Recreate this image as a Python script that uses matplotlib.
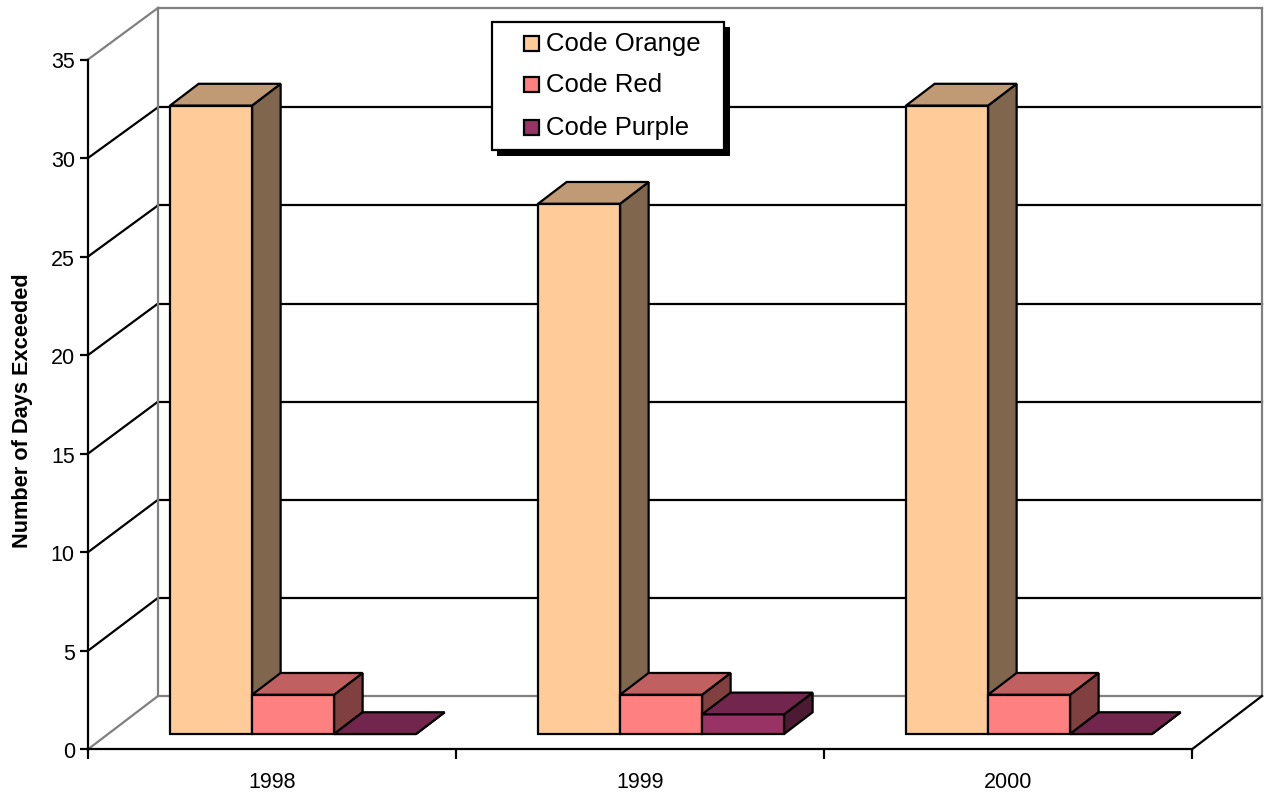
import matplotlib
matplotlib.use("Agg")
import matplotlib.pyplot as plt
from matplotlib.patches import Polygon, Rectangle
from matplotlib.transforms import ScaledTranslation

plt.rcParams["font.family"] = ["Liberation Sans", "DejaVu Sans"]

# Chart data
years = ["1998", "1999", "2000"]
code_orange = [32, 27, 32]
code_red = [2, 2, 2]
code_purple = [0, 1, 0]
series_names = ["Code Orange", "Code Red", "Code Purple"]
y_ticks = [0, 5, 10, 15, 20, 25, 30, 35]

# Face colours per series: front, top, side
orange_faces = ("#FFCC99", "#C09A74", "#80664D")
red_faces = ("#FF8080", "#C06060", "#804040")
purple_faces = ("#993366", "#73264D", "#4D1A33")

W, H = 1267, 793
LW = 1.6
fig = plt.figure(figsize=(W / 100, H / 100), dpi=100)

# The axes rectangle is the front plane of the 3-D box
left, right, bottom, top = 88.0, 1192.0, 749.3, 59.5
ax = fig.add_axes([left / W, 1 - bottom / H, (right - left) / W, (bottom - top) / H])
ax.set_xlim(0, 3)
ax.set_ylim(0, 35)
ax.patch.set_visible(False)

# Oblique projection: how far the depth axis shifts a point, in data units
DEPTH_X = 70.0 / ((right - left) / 3)
DEPTH_Y = 53.3 / ((bottom - top) / 35)
# Planes behind the front one have a slightly compressed value scale
WALL_SCALE = 0.9957
WALL_TOP_SCALE = 0.9975
BAR_SCALE = 0.9965


def project(x, v, d):
    return x + d * DEPTH_X, v + d * DEPTH_Y


def seg(p, q, color, z):
    ax.plot([p[0], q[0]], [p[1], q[1]], color=color, lw=LW, zorder=z,
            clip_on=False, solid_capstyle="projecting")


GREY = "#808080"
# Grid lines on the back wall and left wall
for v in y_ticks[1:-1]:
    seg(project(0, v, 0), project(0, v * WALL_SCALE, 1), "black", 1)
    seg(project(0, v * WALL_SCALE, 1), project(3, v * WALL_SCALE, 1), "black", 1)

# Wall outlines
wall_top = y_ticks[-1] * WALL_TOP_SCALE
seg(project(0, 0, 0), project(0, 0, 1), GREY, 1.5)
seg(project(0, 0, 1), project(3, 0, 1), GREY, 1.5)
seg(project(0, y_ticks[-1], 0), project(0, wall_top, 1), GREY, 1.5)
seg(project(0, wall_top, 1), project(3, wall_top, 1), GREY, 1.5)
seg(project(0, 0, 1), project(0, wall_top, 1), GREY, 1.5)
seg(project(3, 0, 1), project(3, wall_top, 1), GREY, 1.5)
seg(project(3, 0, 0), project(3, 0, 1), "black", 1.6)

# Bars
BAR_WIDTH = 0.2228
BAR_START = 0.1685
D_FRONT, D_BACK = 0.287, 0.695
all_series = [
    (code_orange, orange_faces),
    (code_red, red_faces),
    (code_purple, purple_faces),
]
z = 3.0
for i in range(len(years)):
    for j, (values, faces) in enumerate(all_series):
        x0 = i + BAR_START + j * BAR_WIDTH
        x1 = x0 + BAR_WIDTH
        v = values[i] * BAR_SCALE
        front = [project(x0, 0, D_FRONT), project(x1, 0, D_FRONT),
                 project(x1, v, D_FRONT), project(x0, v, D_FRONT)]
        roof = [project(x0, v, D_FRONT), project(x1, v, D_FRONT),
                project(x1, v, D_BACK), project(x0, v, D_BACK)]
        side = [project(x1, 0, D_FRONT), project(x1, 0, D_BACK),
                project(x1, v, D_BACK), project(x1, v, D_FRONT)]
        for pts, colour in ((side, faces[2]), (front, faces[0]), (roof, faces[1])):
            ax.add_patch(Polygon(pts, closed=True, facecolor=colour, edgecolor="black",
                                 lw=LW, joinstyle="miter", zorder=z, clip_on=False))
            z += 0.01

# Axis lines and ticks
for name in ("top", "right"):
    ax.spines[name].set_visible(False)
for name in ("left", "bottom"):
    ax.spines[name].set_linewidth(LW)
    ax.spines[name].set_zorder(2)
ax.set_yticks(y_ticks)
ax.set_xticks([0, 1, 2, 3])
ax.set_xticklabels([])
ax.set_xticks([0.5, 1.5, 2.5], labels=years, minor=True)
ax.tick_params(axis="y", length=6, width=LW, labelsize=15.5, pad=3.5, colors="black")
ax.tick_params(axis="x", which="major", length=7.5, width=LW)
ax.tick_params(axis="x", which="minor", length=0, labelsize=15.5, pad=16.5)

# Nudge the value labels down slightly relative to their ticks
nudge = ScaledTranslation(0, -1 / 100, fig.dpi_scale_trans)
for label in ax.get_yticklabels():
    label.set_transform(label.get_transform() + nudge)

# Overlay in pixel coordinates for axis title and key
ov = fig.add_axes([0, 0, 1, 1], zorder=10)
ov.set_xlim(0, W)
ov.set_ylim(H, 0)
ov.axis("off")

ov.text(23, 411, "Number of Days Exceeded", rotation=90, ha="center", va="center",
        fontsize=15.7, fontweight="bold")

ov.add_patch(Rectangle((497, 27), 233, 129, facecolor="black", edgecolor="none"))
ov.add_patch(Rectangle((492, 22), 232, 128, facecolor="white", edgecolor="black", lw=LW))
key_rows = [43, 84, 127]
for name, faces, yc in zip(series_names, (orange_faces, red_faces, purple_faces), key_rows):
    ov.add_patch(Rectangle((524, yc - 7.5), 15, 15, facecolor=faces[0], edgecolor="black", lw=LW))
    ov.text(546, yc + 1.5, name, ha="left", va="center", fontsize=18.5)

fig.savefig("out.png", dpi=100)
